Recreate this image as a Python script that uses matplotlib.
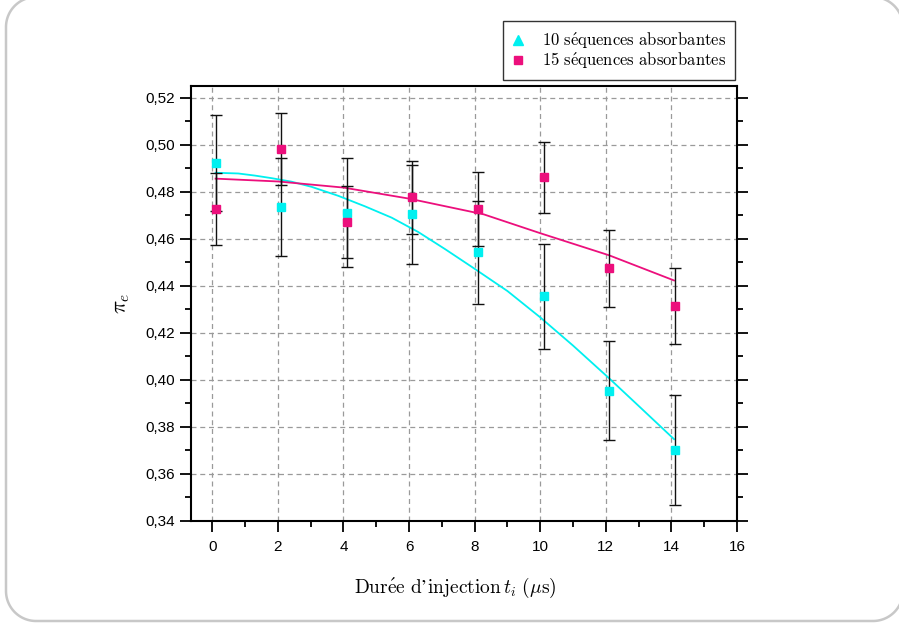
import matplotlib
matplotlib.use("Agg")
import numpy as np
import matplotlib.pyplot as plt
from matplotlib.lines import Line2D
from matplotlib.ticker import MultipleLocator, FuncFormatter

# Données
t = [0.1, 2.1, 4.1, 6.1, 8.1, 10.1, 12.1, 14.1]
pi_10 = [0.4922, 0.4735, 0.4712, 0.4705, 0.4542, 0.4355, 0.3954, 0.3703]
err_10 = [0.0205, 0.0210, 0.0230, 0.0210, 0.0221, 0.0222, 0.0210, 0.0233]
pi_15 = [0.4726, 0.4982, 0.4670, 0.4776, 0.4726, 0.4861, 0.4475, 0.4314]
err_15 = [0.0152, 0.0154, 0.0153, 0.0155, 0.0157, 0.0150, 0.0164, 0.0163]

# Courbes d'ajustement
fit_t_10 = [0.1, 0.79, 1.30, 1.81, 2.42, 3.03, 3.84, 4.66, 5.47, 6.28, 7.09, 7.91,
            9.0, 10.0, 11.0, 12.1, 13.05, 14.08]
fit_10 = [0.4881, 0.4878, 0.4869, 0.4858, 0.4843, 0.4821, 0.4783, 0.4738, 0.4690,
          0.4629, 0.4557, 0.4481, 0.4378, 0.4266, 0.4146, 0.4007, 0.3883, 0.3748]
fit_t_15 = [0.1, 2.0, 4.0, 6.0, 8.28, 10.0, 12.1, 14.08]
fit_15 = [0.4856, 0.4844, 0.4818, 0.4771, 0.4704, 0.4624, 0.4530, 0.4423]

CYAN = "#00F0F0"
MAGENTA = "#EC0F7C"

plt.rcParams["mathtext.fontset"] = "cm"
plt.rcParams["font.family"] = ["Liberation Sans", "DejaVu Sans"]

W, H = 899, 623
fig = plt.figure(figsize=(W / 100, H / 100), dpi=100)
ax = fig.add_axes([191 / W, 1 - 521 / H, (737 - 191) / W, (521 - 86) / H])


def cadre_arrondi(x0, y0, x1, y1, r, n=30):
    # rectangle arrondi en pixels (y vers le bas), renvoyé en fraction de figure
    a = np.linspace(0, np.pi / 2, n)
    coins = [
        (x1 - r, y0 + r, -np.pi / 2 + a),   # haut droit
        (x1 - r, y1 - r, a),                # bas droit
        (x0 + r, y1 - r, np.pi / 2 + a),    # bas gauche
        (x0 + r, y0 + r, np.pi + a),        # haut gauche
    ]
    xs, ys = [], []
    for cx, cy, ang in coins:
        xs.extend(cx + r * np.cos(ang))
        ys.extend(cy + r * np.sin(ang))
    xs.append(xs[0])
    ys.append(ys[0])
    return np.array(xs) / W, 1 - np.array(ys) / H


fx, fy = cadre_arrondi(6, -3, 903, 621, 30)
fig.add_artist(Line2D(fx, fy, transform=fig.transFigure, color="#C8C8C8", lw=1.8, zorder=0))

ax.plot(fit_t_10, fit_10, color=CYAN, lw=1.3, zorder=3)
ax.plot(fit_t_15, fit_15, color=MAGENTA, lw=1.3, zorder=3)

ax.errorbar(t, pi_10, yerr=err_10, fmt="s", color=CYAN, ms=5.5, ecolor="#111111",
            elinewidth=1.0, capsize=4, capthick=1.0, zorder=4)
ax.errorbar(t, pi_15, yerr=err_15, fmt="s", color=MAGENTA, ms=5.5, ecolor="#111111",
            elinewidth=1.0, capsize=4, capthick=1.0, zorder=4)

ax.set_xlim(-0.65, 16)
ax.set_ylim(0.34, 0.525)
ax.xaxis.set_major_locator(MultipleLocator(2))
ax.xaxis.set_minor_locator(MultipleLocator(1))
ax.yaxis.set_major_locator(MultipleLocator(0.02))
ax.yaxis.set_minor_locator(MultipleLocator(0.01))
ax.yaxis.set_major_formatter(FuncFormatter(lambda v, p: f"{v:.2f}".replace(".", ",")))

ax.tick_params(which="both", direction="out", top=False, right=True, labelsize=11, width=1.3)
ax.tick_params(which="major", length=8)
ax.tick_params(which="minor", length=4.5)
ax.tick_params(axis="x", which="major", pad=5.5)
for s in ax.spines.values():
    s.set_linewidth(1.5)

ax.grid(True, which="major", color="#9A9A9A", linestyle=(0, (4, 3)), linewidth=0.9)
ax.set_axisbelow(True)

ax.set_xlabel("$\\mathrm{Dur\\acute{e}e\\ d\u2019injection}\\,t_i\\ (\\mu\\mathrm{s})$",
              fontsize=14, labelpad=17)
ax.xaxis.set_label_coords((455 - 191) / 546, -0.125)
ax.set_ylabel(r"$\pi_e$", fontsize=16, labelpad=10)

handles = [
    Line2D([], [], ls="none", marker="^", color=CYAN, ms=7.5),
    Line2D([], [], ls="none", marker="s", color=MAGENTA, ms=5.5),
]
labels = [r"$\mathrm{10\ s\acute{e}quences\ absorbantes}$",
          r"$\mathrm{15\ s\acute{e}quences\ absorbantes}$"]
leg = fig.legend(handles, labels, loc="upper right", bbox_to_anchor=(735 / W, 1 - 21 / H),
                 borderaxespad=0, fontsize=12, frameon=True, fancybox=False, edgecolor="black",
                 handletextpad=1.0, handlelength=0.8, borderpad=0.55, labelspacing=0.0)
leg.get_frame().set_linewidth(1.0)

fig.savefig("out.png", dpi=100)
